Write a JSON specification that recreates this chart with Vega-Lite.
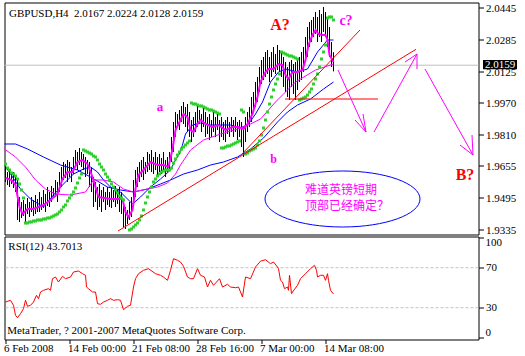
{
"$schema": "https://vega.github.io/schema/vega-lite/v6.json",
"background": "white",
"padding": {"left": 0.5, "top": 0.5, "right": 0, "bottom": 0},
"spacing": 2,
"bounds": "flush",
"config": {
  "font": "Liberation Sans Narrow",
  "view": {"stroke": "black", "strokeWidth": 1},
  "axis": {"labelFont": "Liberation Sans Narrow", "labelFontSize": 11, "labelColor": "black", "tickColor": "black", "domain": false, "grid": false, "labelFlush": false, "labelOverlap": false}
},
"datasets": {
  "bars": [{"i":0,"h":1.9650,"l":1.9575},{"i":1,"h":1.9625,"l":1.9560},{"i":2,"h":1.9635,"l":1.9550},{"i":3,"h":1.9615,"l":1.9565},{"i":4,"h":1.9625,"l":1.9545},{"i":5,"h":1.9600,"l":1.9525},{"i":6,"h":1.9595,"l":1.9385},{"i":7,"h":1.9500,"l":1.9375},{"i":8,"h":1.9475,"l":1.9395},{"i":9,"h":1.9485,"l":1.9405},{"i":10,"h":1.9465,"l":1.9375},{"i":11,"h":1.9495,"l":1.9415},{"i":12,"h":1.9475,"l":1.9400},{"i":13,"h":1.9500,"l":1.9425},{"i":14,"h":1.9485,"l":1.9405},{"i":15,"h":1.9510,"l":1.9415},{"i":16,"h":1.9490,"l":1.9425},{"i":17,"h":1.9525,"l":1.9425},{"i":18,"h":1.9500,"l":1.9435},{"i":19,"h":1.9535,"l":1.9445},{"i":20,"h":1.9515,"l":1.9425},{"i":21,"h":1.9550,"l":1.9455},{"i":22,"h":1.9525,"l":1.9450},{"i":23,"h":1.9555,"l":1.9475},{"i":24,"h":1.9545,"l":1.9495},{"i":25,"h":1.9585,"l":1.9500},{"i":26,"h":1.9575,"l":1.9475},{"i":27,"h":1.9625,"l":1.9525},{"i":28,"h":1.9650,"l":1.9550},{"i":29,"h":1.9675,"l":1.9585},{"i":30,"h":1.9665,"l":1.9595},{"i":31,"h":1.9685,"l":1.9575},{"i":32,"h":1.9675,"l":1.9600},{"i":33,"h":1.9650,"l":1.9575},{"i":34,"h":1.9700,"l":1.9615},{"i":35,"h":1.9735,"l":1.9650},{"i":36,"h":1.9725,"l":1.9635},{"i":37,"h":1.9745,"l":1.9660},{"i":38,"h":1.9725,"l":1.9650},{"i":39,"h":1.9715,"l":1.9635},{"i":40,"h":1.9700,"l":1.9600},{"i":41,"h":1.9685,"l":1.9615},{"i":42,"h":1.9675,"l":1.9550},{"i":43,"h":1.9650,"l":1.9525},{"i":44,"h":1.9600,"l":1.9450},{"i":45,"h":1.9575,"l":1.9475},{"i":46,"h":1.9550,"l":1.9435},{"i":47,"h":1.9565,"l":1.9450},{"i":48,"h":1.9535,"l":1.9425},{"i":49,"h":1.9550,"l":1.9475},{"i":50,"h":1.9525,"l":1.9435},{"i":51,"h":1.9550,"l":1.9460},{"i":52,"h":1.9525,"l":1.9450},{"i":53,"h":1.9545,"l":1.9445},{"i":54,"h":1.9535,"l":1.9475},{"i":55,"h":1.9555,"l":1.9450},{"i":56,"h":1.9535,"l":1.9465},{"i":57,"h":1.9550,"l":1.9425},{"i":58,"h":1.9525,"l":1.9415},{"i":59,"h":1.9475,"l":1.9350},{"i":60,"h":1.9450,"l":1.9340},{"i":61,"h":1.9435,"l":1.9365},{"i":62,"h":1.9475,"l":1.9385},{"i":63,"h":1.9500,"l":1.9400},{"i":64,"h":1.9585,"l":1.9450},{"i":65,"h":1.9635,"l":1.9500},{"i":66,"h":1.9650,"l":1.9550},{"i":67,"h":1.9675,"l":1.9575},{"i":68,"h":1.9685,"l":1.9600},{"i":69,"h":1.9700,"l":1.9585},{"i":70,"h":1.9675,"l":1.9615},{"i":71,"h":1.9725,"l":1.9625},{"i":72,"h":1.9715,"l":1.9635},{"i":73,"h":1.9735,"l":1.9625},{"i":74,"h":1.9700,"l":1.9615},{"i":75,"h":1.9725,"l":1.9635},{"i":76,"h":1.9700,"l":1.9600},{"i":77,"h":1.9715,"l":1.9625},{"i":78,"h":1.9695,"l":1.9615},{"i":79,"h":1.9725,"l":1.9635},{"i":80,"h":1.9685,"l":1.9600},{"i":81,"h":1.9700,"l":1.9625},{"i":82,"h":1.9725,"l":1.9635},{"i":83,"h":1.9800,"l":1.9675},{"i":84,"h":1.9875,"l":1.9725},{"i":85,"h":1.9925,"l":1.9800},{"i":86,"h":1.9915,"l":1.9850},{"i":87,"h":1.9935,"l":1.9835},{"i":88,"h":1.9955,"l":1.9875},{"i":89,"h":1.9975,"l":1.9865},{"i":90,"h":1.9950,"l":1.9850},{"i":91,"h":1.9965,"l":1.9825},{"i":92,"h":1.9925,"l":1.9800},{"i":93,"h":1.9885,"l":1.9775},{"i":94,"h":1.9900,"l":1.9800},{"i":95,"h":1.9925,"l":1.9825},{"i":96,"h":1.9960,"l":1.9850},{"i":97,"h":1.9935,"l":1.9865},{"i":98,"h":1.9915,"l":1.9825},{"i":99,"h":1.9950,"l":1.9850},{"i":100,"h":1.9925,"l":1.9800},{"i":101,"h":1.9900,"l":1.9815},{"i":102,"h":1.9915,"l":1.9785},{"i":103,"h":1.9885,"l":1.9800},{"i":104,"h":1.9925,"l":1.9825},{"i":105,"h":1.9900,"l":1.9800},{"i":106,"h":1.9915,"l":1.9835},{"i":107,"h":1.9885,"l":1.9775},{"i":108,"h":1.9900,"l":1.9800},{"i":109,"h":1.9875,"l":1.9785},{"i":110,"h":1.9885,"l":1.9775},{"i":111,"h":1.9900,"l":1.9815},{"i":112,"h":1.9875,"l":1.9800},{"i":113,"h":1.9900,"l":1.9825},{"i":114,"h":1.9885,"l":1.9800},{"i":115,"h":1.9900,"l":1.9825},{"i":116,"h":1.9875,"l":1.9785},{"i":117,"h":1.9885,"l":1.9800},{"i":118,"h":1.9875,"l":1.9750},{"i":119,"h":1.9850,"l":1.9700},{"i":120,"h":1.9900,"l":1.9775},{"i":121,"h":1.9925,"l":1.9825},{"i":122,"h":1.9950,"l":1.9850},{"i":123,"h":2.0000,"l":1.9875},{"i":124,"h":2.0025,"l":1.9925},{"i":125,"h":2.0075,"l":1.9950},{"i":126,"h":2.0100,"l":1.9975},{"i":127,"h":2.0150,"l":2.0025},{"i":128,"h":2.0185,"l":2.0065},{"i":129,"h":2.0200,"l":2.0085},{"i":130,"h":2.0225,"l":2.0100},{"i":131,"h":2.0235,"l":2.0115},{"i":132,"h":2.0200,"l":2.0075},{"i":133,"h":2.0225,"l":2.0100},{"i":134,"h":2.0250,"l":2.0125},{"i":135,"h":2.0215,"l":2.0115},{"i":136,"h":2.0260,"l":2.0135},{"i":137,"h":2.0235,"l":2.0125},{"i":138,"h":2.0225,"l":2.0100},{"i":139,"h":2.0200,"l":2.0050},{"i":140,"h":2.0175,"l":2.0025},{"i":141,"h":2.0150,"l":2.0000},{"i":142,"h":2.0175,"l":1.9985},{"i":143,"h":2.0185,"l":2.0050},{"i":144,"h":2.0165,"l":2.0015},{"i":145,"h":2.0175,"l":1.9985},{"i":146,"h":2.0185,"l":2.0035},{"i":147,"h":2.0200,"l":2.0075},{"i":148,"h":2.0225,"l":2.0085},{"i":149,"h":2.0250,"l":2.0125},{"i":150,"h":2.0300,"l":2.0175},{"i":151,"h":2.0350,"l":2.0200},{"i":152,"h":2.0375,"l":2.0250},{"i":153,"h":2.0385,"l":2.0275},{"i":154,"h":2.0400,"l":2.0300},{"i":155,"h":2.0425,"l":2.0315},{"i":156,"h":2.0400,"l":2.0275},{"i":157,"h":2.0435,"l":2.0300},{"i":158,"h":2.0415,"l":2.0275},{"i":159,"h":2.0450,"l":2.0325},{"i":160,"h":2.0425,"l":2.0300},{"i":161,"h":2.0400,"l":2.0250},{"i":162,"h":2.0350,"l":2.0200},{"i":163,"h":2.0275,"l":2.0150},{"i":164,"h":2.0224,"l":2.0128}],
  "fast": [{"i":0,"v":1.9595},{"i":3,"v":1.9585},{"i":5,"v":1.9560},{"i":7,"v":1.9450},{"i":8.5,"v":1.9415},{"i":11,"v":1.9440},{"i":14,"v":1.9440},{"i":19,"v":1.9460},{"i":22.5,"v":1.9485},{"i":26,"v":1.9515},{"i":28.5,"v":1.9590},{"i":31,"v":1.9625},{"i":33.5,"v":1.9625},{"i":36,"v":1.9675},{"i":38.5,"v":1.9685},{"i":41,"v":1.9665},{"i":43.5,"v":1.9600},{"i":46.5,"v":1.9500},{"i":52.5,"v":1.9490},{"i":58.5,"v":1.9490},{"i":60,"v":1.9425},{"i":61.5,"v":1.9400},{"i":63.5,"v":1.9435},{"i":65,"v":1.9540},{"i":66.5,"v":1.9610},{"i":69,"v":1.9635},{"i":72.5,"v":1.9675},{"i":76,"v":1.9660},{"i":79,"v":1.9660},{"i":81.5,"v":1.9650},{"i":83.5,"v":1.9740},{"i":85,"v":1.9835},{"i":87.5,"v":1.9885},{"i":89,"v":1.9915},{"i":91,"v":1.9900},{"i":92.5,"v":1.9835},{"i":94,"v":1.9825},{"i":96,"v":1.9865},{"i":97.5,"v":1.9885},{"i":100,"v":1.9865},{"i":103.5,"v":1.9850},{"i":106.5,"v":1.9860},{"i":110,"v":1.9835},{"i":113.5,"v":1.9850},{"i":116.5,"v":1.9850},{"i":119,"v":1.9840},{"i":121,"v":1.9865},{"i":123.5,"v":1.9915},{"i":126,"v":2.0000},{"i":127.5,"v":2.0075},{"i":130,"v":2.0125},{"i":131.5,"v":2.0140},{"i":134,"v":2.0140},{"i":136.5,"v":2.0165},{"i":138.5,"v":2.0160},{"i":140,"v":2.0110},{"i":141.5,"v":2.0090},{"i":143.5,"v":2.0125},{"i":146,"v":2.0125},{"i":148.5,"v":2.0135},{"i":150,"v":2.0185},{"i":151.5,"v":2.0260},{"i":153.5,"v":2.0310},{"i":155,"v":2.0335},{"i":156.5,"v":2.0315},{"i":158.5,"v":2.0310},{"i":160,"v":2.0310},{"i":161,"v":2.0285},{"i":162,"v":2.0210},{"i":164,"v":2.0175}],
  "slow": [{"i":-0.5,"v":1.9740},{"i":5,"v":1.9700},{"i":10,"v":1.9650},{"i":15,"v":1.9585},{"i":20,"v":1.9540},{"i":25,"v":1.9515},{"i":32.5,"v":1.9510},{"i":40,"v":1.9525},{"i":44,"v":1.9585},{"i":49,"v":1.9585},{"i":54,"v":1.9575},{"i":59,"v":1.9540},{"i":64,"v":1.9525},{"i":71,"v":1.9540},{"i":76,"v":1.9550},{"i":81,"v":1.9570},{"i":85,"v":1.9615},{"i":87.5,"v":1.9660},{"i":92.5,"v":1.9735},{"i":99,"v":1.9785},{"i":107.5,"v":1.9815},{"i":116,"v":1.9840},{"i":122.5,"v":1.9865},{"i":127.5,"v":1.9890},{"i":135,"v":1.9975},{"i":145,"v":2.0075},{"i":155,"v":2.0135},{"i":164,"v":2.0165}],
  "blue1": [{"i":-0.5,"v":1.9660},{"i":2.5,"v":1.9615},{"i":7.5,"v":1.9540},{"i":12.5,"v":1.9490},{"i":19,"v":1.9450},{"i":24,"v":1.9510},{"i":29,"v":1.9565},{"i":34,"v":1.9615},{"i":39,"v":1.9640},{"i":42.5,"v":1.9650},{"i":46,"v":1.9625},{"i":49,"v":1.9585},{"i":52.5,"v":1.9550},{"i":57.5,"v":1.9525},{"i":61,"v":1.9490},{"i":63.5,"v":1.9465},{"i":67.5,"v":1.9500},{"i":72.5,"v":1.9550},{"i":77.5,"v":1.9590},{"i":82.5,"v":1.9635},{"i":85,"v":1.9685},{"i":87.5,"v":1.9725},{"i":90,"v":1.9815},{"i":93.5,"v":1.9860},{"i":97.5,"v":1.9870},{"i":102.5,"v":1.9860},{"i":107.5,"v":1.9860},{"i":112.5,"v":1.9860},{"i":117.5,"v":1.9845},{"i":121.5,"v":1.9865},{"i":125,"v":1.9915},{"i":128.5,"v":1.9975},{"i":132.5,"v":2.0075},{"i":136.5,"v":2.0125},{"i":140,"v":2.0140},{"i":146,"v":2.0125},{"i":151,"v":2.0140},{"i":156,"v":2.0225},{"i":161,"v":2.0285},{"i":164,"v":2.0285}],
  "blue2": [{"i":-0.5,"v":1.9765},{"i":5,"v":1.9765},{"i":11,"v":1.9740},{"i":19,"v":1.9700},{"i":27.5,"v":1.9660},{"i":36,"v":1.9635},{"i":42.5,"v":1.9600},{"i":51,"v":1.9550},{"i":57.5,"v":1.9535},{"i":64,"v":1.9525},{"i":71,"v":1.9540},{"i":77.5,"v":1.9565},{"i":82.5,"v":1.9585},{"i":89,"v":1.9615},{"i":96,"v":1.9635},{"i":102.5,"v":1.9660},{"i":109,"v":1.9675},{"i":116,"v":1.9700},{"i":122.5,"v":1.9740},{"i":129,"v":1.9795},{"i":136,"v":1.9875},{"i":141,"v":1.9925},{"i":146,"v":1.9960},{"i":152.5,"v":1.9990},{"i":159,"v":2.0040},{"i":164,"v":2.0075}],
  "sar": [{"i":0,"v":1.9665},{"i":1,"v":1.9645},{"i":2,"v":1.9635},{"i":3,"v":1.9620},{"i":4,"v":1.9615},{"i":5,"v":1.9605},{"i":6,"v":1.9590},{"i":7,"v":1.9565},{"i":8,"v":1.9535},{"i":9,"v":1.9495},{"i":10,"v":1.9370},{"i":11,"v":1.9370},{"i":12,"v":1.9375},{"i":13,"v":1.9375},{"i":14,"v":1.9380},{"i":15,"v":1.9380},{"i":16,"v":1.9385},{"i":17,"v":1.9385},{"i":18,"v":1.9385},{"i":19,"v":1.9390},{"i":20,"v":1.9390},{"i":21,"v":1.9395},{"i":22,"v":1.9395},{"i":23,"v":1.9400},{"i":24,"v":1.9405},{"i":25,"v":1.9410},{"i":26,"v":1.9415},{"i":27,"v":1.9425},{"i":28,"v":1.9435},{"i":29,"v":1.9450},{"i":30,"v":1.9460},{"i":31,"v":1.9480},{"i":32,"v":1.9495},{"i":33,"v":1.9510},{"i":34,"v":1.9525},{"i":35,"v":1.9545},{"i":36,"v":1.9570},{"i":37,"v":1.9595},{"i":38,"v":1.9615},{"i":39,"v":1.9735},{"i":40,"v":1.9730},{"i":41,"v":1.9725},{"i":42,"v":1.9720},{"i":43,"v":1.9715},{"i":44,"v":1.9705},{"i":45,"v":1.9700},{"i":46,"v":1.9685},{"i":47,"v":1.9665},{"i":48,"v":1.9650},{"i":49,"v":1.9635},{"i":50,"v":1.9615},{"i":51,"v":1.9600},{"i":52,"v":1.9585},{"i":53,"v":1.9565},{"i":54,"v":1.9550},{"i":55,"v":1.9535},{"i":56,"v":1.9520},{"i":57,"v":1.9505},{"i":58,"v":1.9495},{"i":59,"v":1.9485},{"i":62,"v":1.9335},{"i":63,"v":1.9340},{"i":64,"v":1.9350},{"i":65,"v":1.9360},{"i":66,"v":1.9370},{"i":67,"v":1.9385},{"i":68,"v":1.9405},{"i":69,"v":1.9435},{"i":70,"v":1.9470},{"i":71,"v":1.9500},{"i":72,"v":1.9525},{"i":73,"v":1.9550},{"i":74,"v":1.9575},{"i":75,"v":1.9590},{"i":76,"v":1.9605},{"i":77,"v":1.9615},{"i":78,"v":1.9625},{"i":79,"v":1.9630},{"i":80,"v":1.9635},{"i":81,"v":1.9635},{"i":82,"v":1.9635},{"i":83,"v":1.9645},{"i":84,"v":1.9670},{"i":85,"v":1.9690},{"i":86,"v":1.9710},{"i":87,"v":1.9725},{"i":88,"v":1.9740},{"i":89,"v":1.9750},{"i":90,"v":1.9760},{"i":91,"v":1.9770},{"i":92,"v":1.9780},{"i":93,"v":1.9970},{"i":94,"v":1.9965},{"i":95,"v":1.9965},{"i":96,"v":1.9960},{"i":97,"v":1.9955},{"i":98,"v":1.9955},{"i":99,"v":1.9950},{"i":100,"v":1.9945},{"i":101,"v":1.9940},{"i":102,"v":1.9935},{"i":103,"v":1.9935},{"i":104,"v":1.9930},{"i":105,"v":1.9925},{"i":106,"v":1.9920},{"i":107,"v":1.9915},{"i":108,"v":1.9745},{"i":109,"v":1.9745},{"i":110,"v":1.9750},{"i":111,"v":1.9755},{"i":112,"v":1.9755},{"i":113,"v":1.9760},{"i":114,"v":1.9765},{"i":115,"v":1.9770},{"i":116,"v":1.9775},{"i":117,"v":1.9780},{"i":118,"v":1.9935},{"i":119,"v":1.9925},{"i":120,"v":1.9715},{"i":121,"v":1.9720},{"i":122,"v":1.9730},{"i":123,"v":1.9735},{"i":124,"v":1.9740},{"i":125,"v":1.9745},{"i":126,"v":1.9760},{"i":127,"v":1.9780},{"i":128,"v":1.9810},{"i":129,"v":1.9845},{"i":130,"v":1.9885},{"i":131,"v":1.9925},{"i":132,"v":1.9965},{"i":133,"v":2.0000},{"i":134,"v":2.0035},{"i":135,"v":2.0065},{"i":136,"v":2.0090},{"i":137,"v":2.0115},{"i":138,"v":2.0225},{"i":139,"v":2.0220},{"i":140,"v":2.0215},{"i":141,"v":2.0210},{"i":142,"v":2.0205},{"i":143,"v":2.0205},{"i":144,"v":2.0200},{"i":145,"v":2.0195},{"i":146,"v":2.0190},{"i":147,"v":1.9985},{"i":148,"v":1.9990},{"i":149,"v":1.9995},{"i":150,"v":2.0000},{"i":151,"v":2.0010},{"i":152,"v":2.0025},{"i":153,"v":2.0040},{"i":154,"v":2.0065},{"i":155,"v":2.0090},{"i":156,"v":2.0115},{"i":157,"v":2.0150},{"i":158,"v":2.0190},{"i":159,"v":2.0225},{"i":160,"v":2.0260},{"i":161,"v":2.0395},{"i":162,"v":2.0400},{"i":163,"v":2.0400},{"i":164,"v":2.0385}],
  "red": [{"x":56.25,"y":1.9330,"x2":205.25,"y2":2.02385},{"x":117.75,"y":1.9710,"x2":177.25,"y2":2.0335},{"x":139.75,"y":1.9990,"x2":186.25,"y2":1.9990}],
  "arrows": [{"x":166.25,"y":2.0135,"x2":180.25,"y2":1.9825},{"x":174.75,"y":1.9885,"x2":180.25,"y2":1.9825},{"x":178.75,"y":1.9915,"x2":180.25,"y2":1.9825},{"x":184.25,"y":1.9825,"x2":205.75,"y2":2.0215},{"x":199.75,"y":2.0175,"x2":205.75,"y2":2.0215},{"x":205.75,"y":2.0140,"x2":205.75,"y2":2.0215},{"x":209.75,"y":2.0140,"x2":233.75,"y2":1.9710},{"x":227.25,"y":1.9760,"x2":233.75,"y2":1.9710},{"x":233.25,"y":1.9810,"x2":233.75,"y2":1.9710}],
  "rsi": [{"i":0,"v":35.7},{"i":2.5,"v":37.4},{"i":4,"v":32.4},{"i":5,"v":22.4},{"i":6,"v":20},{"i":7.5,"v":24},{"i":9,"v":29},{"i":10,"v":37.4},{"i":11,"v":31.4},{"i":12.5,"v":32.4},{"i":14,"v":35.7},{"i":15.5,"v":42.4},{"i":16.5,"v":39},{"i":17.5,"v":45.7},{"i":19,"v":47.4},{"i":21.5,"v":49},{"i":22.5,"v":47.4},{"i":23.5,"v":59},{"i":25,"v":60.7},{"i":26.5,"v":55.7},{"i":28.5,"v":61.4},{"i":30,"v":59},{"i":32.5,"v":60.7},{"i":34,"v":65.7},{"i":36.5,"v":66.7},{"i":38.5,"v":64},{"i":40,"v":62.4},{"i":40.5,"v":50.7},{"i":41.5,"v":49},{"i":43.5,"v":45.7},{"i":45,"v":45.7},{"i":46,"v":34},{"i":47.5,"v":33.4},{"i":49,"v":35.7},{"i":51,"v":37.4},{"i":52.5,"v":39},{"i":54,"v":37.4},{"i":56,"v":38},{"i":57.5,"v":37.4},{"i":59,"v":28},{"i":61,"v":31.4},{"i":62.5,"v":32.4},{"i":64,"v":50.7},{"i":65,"v":59},{"i":66.5,"v":64},{"i":69,"v":67.4},{"i":71.5,"v":69},{"i":75,"v":64},{"i":77.5,"v":62.4},{"i":79,"v":60.7},{"i":81,"v":57.4},{"i":82.5,"v":67.4},{"i":84,"v":79},{"i":86,"v":77.4},{"i":87.5,"v":75.7},{"i":89,"v":71.4},{"i":91,"v":60.7},{"i":92.5,"v":59},{"i":94,"v":59},{"i":96,"v":69},{"i":97.5,"v":62.4},{"i":99.5,"v":60.7},{"i":101,"v":50.7},{"i":102.5,"v":57.4},{"i":104,"v":52.4},{"i":107,"v":59},{"i":108.5,"v":50.7},{"i":111,"v":53.4},{"i":112.5,"v":50.7},{"i":115,"v":50},{"i":116.5,"v":50.7},{"i":118.5,"v":40.7},{"i":120,"v":60.7},{"i":122.5,"v":59},{"i":125,"v":70.7},{"i":127.5,"v":76.5},{"i":130,"v":78},{"i":132.5,"v":74},{"i":134,"v":75.7},{"i":136,"v":70.7},{"i":136.5,"v":69},{"i":137.5,"v":57.4},{"i":138.5,"v":55.7},{"i":139.5,"v":49},{"i":141,"v":50.7},{"i":141.5,"v":47.4},{"i":142,"v":62.4},{"i":143,"v":44},{"i":143.5,"v":45.7},{"i":146,"v":52.4},{"i":147.5,"v":59},{"i":150,"v":64},{"i":152.5,"v":69},{"i":154.5,"v":72.4},{"i":155.5,"v":67.4},{"i":156,"v":60.7},{"i":157.5,"v":62.4},{"i":159,"v":62.4},{"i":160,"v":57.4},{"i":161,"v":64},{"i":161.5,"v":57.4},{"i":162.5,"v":47.4},{"i":164,"v":43.7}]
},
"vconcat": [
 {
  "width": 474,
  "height": 232,
  "encoding": {
    "x": {"type": "quantitative", "scale": {"domain": [-0.5, 236.5], "nice": false, "zero": false}, "axis": null},
    "y": {"type": "quantitative", "scale": {"domain": [1.93125, 2.04725], "nice": false, "zero": false},
          "axis": {"orient": "right", "title": null, "values": [2.0445, 2.0285, 2.0125, 1.997, 1.981, 1.9655, 1.9495, 1.9335], "format": ".4f", "tickSize": 5, "labelPadding": 2}}
  },
  "layer": [
   {"data": {"values": [{}]}, "mark": {"type": "rule", "color": "#C0C0C0", "strokeWidth": 1},
    "encoding": {"y": {"datum": 2.0159, "type": "quantitative"}}},
   {"data": {"name": "bars"}, "mark": {"type": "rule", "color": "black", "strokeWidth": 1},
    "encoding": {"x": {"field": "i", "type": "quantitative"}, "y": {"field": "l", "type": "quantitative"}, "y2": {"field": "h"}}},
   {"data": {"name": "blue2"}, "mark": {"type": "line", "color": "#0000FF", "strokeWidth": 1},
    "encoding": {"x": {"field": "i", "type": "quantitative"}, "y": {"field": "v", "type": "quantitative"}}},
   {"data": {"name": "blue1"}, "mark": {"type": "line", "color": "#0000FF", "strokeWidth": 1},
    "encoding": {"x": {"field": "i", "type": "quantitative"}, "y": {"field": "v", "type": "quantitative"}}},
   {"data": {"name": "slow"}, "mark": {"type": "line", "color": "#FF00FF", "strokeWidth": 1},
    "encoding": {"x": {"field": "i", "type": "quantitative"}, "y": {"field": "v", "type": "quantitative"}}},
   {"data": {"name": "fast"}, "mark": {"type": "line", "color": "#FF00FF", "strokeWidth": 2},
    "encoding": {"x": {"field": "i", "type": "quantitative"}, "y": {"field": "v", "type": "quantitative"}}},
   {"data": {"name": "sar"}, "mark": {"type": "point", "shape": "square", "filled": true, "size": 9, "color": "#32CD32", "opacity": 1},
    "encoding": {"x": {"field": "i", "type": "quantitative"}, "y": {"field": "v", "type": "quantitative"}}},
   {"data": {"name": "red"}, "mark": {"type": "rule", "color": "#FF0000", "strokeWidth": 1},
    "encoding": {"x": {"field": "x", "type": "quantitative"}, "x2": {"field": "x2"}, "y": {"field": "y", "type": "quantitative"}, "y2": {"field": "y2"}}},
   {"data": {"name": "arrows"}, "mark": {"type": "rule", "color": "#FF00FF", "strokeWidth": 1},
    "encoding": {"x": {"field": "x", "type": "quantitative"}, "x2": {"field": "x2"}, "y": {"field": "y", "type": "quantitative"}, "y2": {"field": "y2"}}},
   {"data": {"values": [{}]}, "mark": {"type": "point", "shape": "M-1,0A1,0.3613,0,1,1,1,0A1,0.3613,0,1,1,-1,0Z", "size": 24025, "filled": false, "color": "#0000FF", "strokeWidth": 1, "opacity": 1},
    "encoding": {"x": {"datum": 168.5, "type": "quantitative"}, "y": {"datum": 1.949, "type": "quantitative"}}},
   {"data": {"values": [{}]}, "mark": {"type": "text", "text": "GBPUSD,H4\u00a0 2.0167 2.0224 2.0128 2.0159", "font": "Liberation Sans Narrow", "fontSize": 11, "color": "black", "align": "left", "baseline": "alphabetic"},
    "encoding": {"x": {"datum": 1.75, "type": "quantitative"}, "y": {"datum": 2.04, "type": "quantitative"}}},
   {"data": {"values": [{}]}, "mark": {"type": "text", "text": "A?", "font": "Liberation Serif", "fontWeight": "bold", "fontSize": 16, "color": "#FF0000", "align": "center", "baseline": "alphabetic"},
    "encoding": {"x": {"datum": 137.25, "type": "quantitative"}, "y": {"datum": 2.0334, "type": "quantitative"}}},
   {"data": {"values": [{}]}, "mark": {"type": "text", "text": "c?", "font": "Liberation Serif", "fontWeight": "bold", "fontSize": 14, "color": "#FF00FF", "align": "center", "baseline": "alphabetic"},
    "encoding": {"x": {"datum": 170.25, "type": "quantitative"}, "y": {"datum": 2.036, "type": "quantitative"}}},
   {"data": {"values": [{}]}, "mark": {"type": "text", "text": "a", "font": "Liberation Serif", "fontWeight": "bold", "fontSize": 13, "color": "#FF00FF", "align": "center", "baseline": "alphabetic"},
    "encoding": {"x": {"datum": 77.25, "type": "quantitative"}, "y": {"datum": 1.993, "type": "quantitative"}}},
   {"data": {"values": [{}]}, "mark": {"type": "text", "text": "b", "font": "Liberation Serif", "fontWeight": "bold", "fontSize": 12, "color": "#FF00FF", "align": "center", "baseline": "alphabetic"},
    "encoding": {"x": {"datum": 134, "type": "quantitative"}, "y": {"datum": 1.967, "type": "quantitative"}}},
   {"data": {"values": [{}]}, "mark": {"type": "text", "text": "B?", "font": "Liberation Serif", "fontWeight": "bold", "fontSize": 16, "color": "#FF0000", "align": "center", "baseline": "alphabetic"},
    "encoding": {"x": {"datum": 229.75, "type": "quantitative"}, "y": {"datum": 1.9585, "type": "quantitative"}}},
   {"data": {"values": [{}]}, "mark": {"type": "text", "text": ["难道英镑短期", "顶部已经确定？"], "lineHeight": 16, "font": "Noto Sans CJK SC", "fontSize": 12, "color": "#FF00FF", "align": "left", "baseline": "alphabetic"},
    "encoding": {"x": {"datum": 149.75, "type": "quantitative"}, "y": {"datum": 1.9515, "type": "quantitative"}}},
   {"data": {"values": [{}]}, "mark": {"type": "rect", "color": "black", "clip": false},
    "encoding": {"x": {"datum": 238.75, "type": "quantitative"}, "x2": {"datum": 255.75}, "y": {"datum": 2.0185, "type": "quantitative"}, "y2": {"datum": 2.0139}}},
   {"data": {"values": [{}]}, "mark": {"type": "text", "text": "2.0159", "font": "Liberation Sans Narrow", "fontSize": 11, "color": "white", "align": "center", "baseline": "middle", "clip": false},
    "encoding": {"x": {"datum": 247.25, "type": "quantitative"}, "y": {"datum": 2.0162, "type": "quantitative"}}}
  ]
 },
 {
  "width": 474,
  "height": 103,
  "encoding": {
    "x": {"type": "quantitative", "scale": {"domain": [-0.5, 236.5], "nice": false, "zero": false},
          "axis": {"orient": "bottom", "title": null, "values": [0, 32, 64, 96, 128, 160], "labelAlign": "left", "labelBaseline": "top", "tickSize": 4, "labelPadding": -1, "labelOffset": -2,
                   "labelExpr": "datum.value == 0 ? '6 Feb 2008' : datum.value == 32 ? '14 Feb 00:00' : datum.value == 64 ? '21 Feb 08:00' : datum.value == 96 ? '28 Feb 16:00' : datum.value == 128 ? '7 Mar 00:00' : '14 Mar 08:00'"}},
    "y": {"type": "quantitative", "scale": {"domain": [-1.8, 101.2], "nice": false, "zero": false},
          "axis": {"orient": "right", "title": null, "values": [0, 30, 70, 100], "tickSize": 5, "labelPadding": 2,
                   "labelExpr": "datum.value == 0 || datum.value == 100 ? '' : datum.label"}}
  },
  "layer": [
   {"data": {"values": [{"v": 70}, {"v": 30}]}, "mark": {"type": "rule", "color": "#C0C0C0", "strokeWidth": 1, "strokeDash": [3, 2]},
    "encoding": {"y": {"field": "v", "type": "quantitative"}}},
   {"data": {"name": "rsi"}, "mark": {"type": "line", "color": "#FF0000", "strokeWidth": 1},
    "encoding": {"x": {"field": "i", "type": "quantitative"}, "y": {"field": "v", "type": "quantitative"}}},
   {"data": {"values": [{}]}, "mark": {"type": "text", "text": "RSI(12) 43.7013", "font": "Liberation Sans Narrow", "fontSize": 11, "color": "black", "align": "left", "baseline": "alphabetic"},
    "encoding": {"x": {"datum": 1.4, "type": "quantitative"}, "y": {"datum": 87.7, "type": "quantitative"}}},
   {"data": {"values": [{}]}, "mark": {"type": "text", "text": "MetaTrader, ? 2001-2007 MetaQuotes Software Corp.", "font": "Liberation Sans Narrow", "fontSize": 11, "color": "black", "align": "left", "baseline": "alphabetic"},
    "encoding": {"x": {"datum": 0.9, "type": "quantitative"}, "y": {"datum": 3.7, "type": "quantitative"}}},
   {"data": {"values": [{}]}, "mark": {"type": "text", "text": "100", "font": "Liberation Sans Narrow", "fontSize": 11, "color": "black", "align": "left", "baseline": "middle", "clip": false},
    "encoding": {"x": {"datum": 240, "type": "quantitative"}, "y": {"datum": 95, "type": "quantitative"}}},
   {"data": {"values": [{}]}, "mark": {"type": "text", "text": "0", "font": "Liberation Sans Narrow", "fontSize": 11, "color": "black", "align": "left", "baseline": "middle", "clip": false},
    "encoding": {"x": {"datum": 240, "type": "quantitative"}, "y": {"datum": 5, "type": "quantitative"}}}
  ]
 }
]
}
